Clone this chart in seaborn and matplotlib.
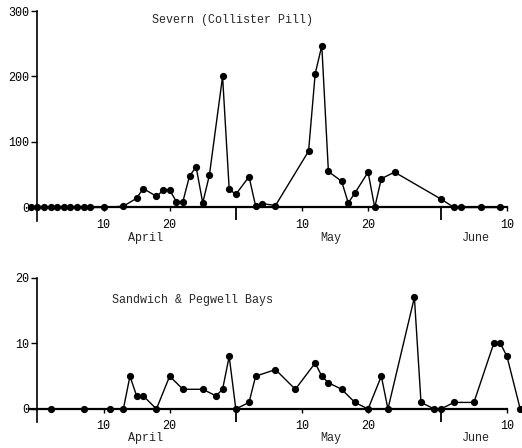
import matplotlib
matplotlib.use("Agg")
import matplotlib.pyplot as plt
import seaborn as sns
import pandas as pd

# Day numbers counted from 31 March (day 0); 30 = 30 April, 61 = 31 May
severn_days = [-1, 0, 1, 2, 3, 4, 5, 6, 7, 8, 10, 13, 15, 16, 18, 19, 20, 21,
               22, 23, 24, 25, 26, 28, 29, 30, 32, 33, 34, 36, 41, 42, 43, 44,
               46, 47, 48, 50, 51, 52, 54, 61, 63, 64, 67, 70]
severn_counts = [0, 0, 0, 0, 0, 0, 0, 0, 0, 0, 0, 2, 14, 29, 17, 26, 27, 9,
                 9, 48, 62, 7, 49, 200, 28, 20, 47, 2, 6, 3, 86, 204, 247, 55,
                 40, 7, 22, 54, 0, 44, 54, 13, 0, 0, 0, 0]

sandwich_days = [2, 7, 11, 13, 14, 15, 16, 18, 20, 22, 25, 27, 28, 29, 30, 32,
                 33, 36, 39, 42, 43, 44, 46, 48, 50, 52, 53, 57, 58, 60, 61,
                 63, 66, 69, 70, 71, 73]
sandwich_counts = [0, 0, 0, 0, 5, 2, 2, 0, 5, 3, 3, 2, 3, 8, 0, 1, 5, 6, 3, 7,
                   5, 4, 3, 1, 0, 5, 0, 17, 1, 0, 0, 1, 1, 10, 10, 8, 0]

day_ticks = [10, 20, 40, 50, 71]
day_tick_labels = ["10", "20", "10", "20", "10"]
month_bounds = [30, 61]
month_names = ["April", "May", "June"]
month_centres = [16.3, 44.4, 66.3]

sns.set_style("white")
plt.rcParams["font.family"] = ["Liberation Mono", "DejaVu Sans"]

W, H = 522, 448
fig = plt.figure(figsize=(W / 100, H / 100), dpi=100)

x_lo, x_hi = -1.6, 73.3
left = 26.8 / W
width = 495.4 / W

ax_top = fig.add_axes([left, (H - 220.6) / H, width, (220.6 - 11) / H])
ax_bot = fig.add_axes([left, (H - 422.1) / H, width, (422.1 - 277.7) / H])

panels = [
    (ax_top, severn_days, severn_counts, (-20, 300), [0, 100, 200, 300],
     "Severn (Collister Pill)", (233, 20), 22.0),
    (ax_bot, sandwich_days, sandwich_counts, (-2, 20), [0, 10, 20],
     "Sandwich & Pegwell Bays", (192, 300), 21.0),
]

for ax, days, counts, ylim, yticks, title, tpos, month_off in panels:
    df = pd.DataFrame({"day": days, "count": counts})
    sns.lineplot(data=df, x="day", y="count", ax=ax, color="black",
                 linewidth=1.0, marker="o", markersize=5.2,
                 markeredgewidth=0, markerfacecolor="black")
    ax.set_xlim(x_lo, x_hi)
    ax.set_ylim(*ylim)
    ax.set_xlabel("")
    ax.set_ylabel("")
    ax.set_facecolor("white")
    ax.grid(False)

    for side in ("top", "right"):
        ax.spines[side].set_visible(False)
    ax.spines["left"].set_position(("data", 0))
    ax.spines["left"].set_bounds(ylim[0], ylim[1])
    ax.spines["left"].set_linewidth(1.2)
    ax.spines["bottom"].set_position(("data", 0))
    ax.spines["bottom"].set_bounds(-1.3, 71)
    ax.spines["bottom"].set_linewidth(1.6)
    for sp in ax.spines.values():
        sp.set_color("black")

    ax.set_yticks(yticks)
    ax.set_yticklabels([str(v) for v in yticks])
    ax.tick_params(axis="y", direction="out", length=4, width=1.0,
                   pad=2, labelsize=8.5, colors="black", left=True)

    ax.set_xticks(day_ticks)
    ax.set_xticklabels(day_tick_labels)
    ax.set_xticks(month_bounds, minor=True)
    ax.tick_params(axis="x", which="major", direction="out", length=3,
                   width=1.0, pad=5, labelsize=8.5, colors="black",
                   bottom=True)
    ax.tick_params(axis="x", which="minor", direction="out", length=9.5,
                   width=1.3, colors="black", bottom=True)

    for name, c in zip(month_names, month_centres):
        ax.annotate(name, xy=(c, 0), xytext=(0, -month_off),
                    textcoords="offset points", ha="center", va="center",
                    fontsize=8.5, annotation_clip=False)

    fig.text(tpos[0] / W, 1 - tpos[1] / H, title, ha="center", va="center",
             fontsize=8.4)

fig.savefig("out.png", dpi=100, facecolor="white")
